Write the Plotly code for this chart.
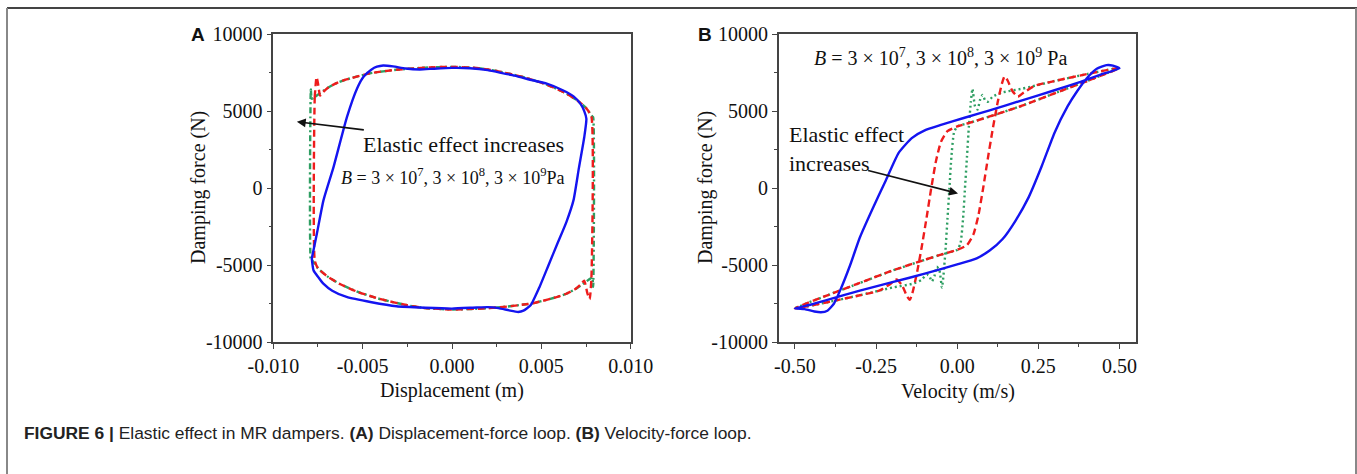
import plotly.graph_objects as go

# ---------------- Panel A: displacement-force loop ----------------
a_blue_x = [-0.00784, -0.00780, -0.00756, -0.00719, -0.00663, -0.00588, -0.00530, -0.00495, -0.00450, -0.00420,
            -0.00385, -0.00330, -0.00260, -0.00180, -0.00100, 0.00000, 0.00100, 0.00200, 0.00250, 0.00350,
            0.00450, 0.00530, 0.00620, 0.00680, 0.00720, 0.00740, 0.00752, 0.00740, 0.00710, 0.00680,
            0.00640, 0.00590, 0.00540, 0.00490, 0.00440, 0.00400, 0.00370, 0.00320, 0.00260, 0.00200,
            0.00140, 0.00000, -0.00150, -0.00310, -0.00450, -0.00590, -0.00670, -0.00720, -0.00750, -0.00775,
            -0.00784]
a_blue_y = [-4566, -4300, -2944, -779, 1364, 4610, 6500, 7229, 7700, 7878,
            7960, 7900, 7760, 7700, 7750, 7800, 7780, 7660, 7540, 7300,
            7000, 6780, 6350, 5950, 5450, 5000, 4500, 3300, 1300, -779,
            -2200, -3593, -5000, -6407, -7597, -7950, -8030, -7930, -7780, -7720,
            -7740, -7813, -7760, -7662, -7400, -7056, -6650, -6190, -5750, -5325,
            -4566]

a_red_x = [-0.00768, -0.00768, -0.00758, -0.00750, -0.00738, -0.00720, -0.00690, -0.00640, -0.00590, -0.00460,
           -0.00310, -0.00150, 0.00000, 0.00150, 0.00250, 0.00400, 0.00530, 0.00630, 0.00700, 0.00750,
           0.00780, 0.00780, 0.00770, 0.00757, 0.00740, 0.00720, 0.00690, 0.00640, 0.00590, 0.00460,
           0.00310, 0.00150, 0.00000, -0.00150, -0.00250, -0.00400, -0.00530, -0.00630, -0.00700, -0.00750,
           -0.00768]
a_red_y = [-4700, 5900, 7200, 6800, 6000, 6250, 6550, 6850, 7050, 7450,
           7680, 7820, 7870, 7780, 7600, 7200, 6720, 6200, 5700, 5200,
           4650, -5900, -7200, -6800, -6000, -6250, -6550, -6850, -7050, -7450,
           -7680, -7820, -7870, -7780, -7600, -7200, -6720, -6200, -5700, -5200,
           -4700]

a_green_x = [-0.00790, -0.00790, -0.00785, -0.00770, -0.00740, -0.00690, -0.00640, -0.00590, -0.00460, -0.00310,
             -0.00150, 0.00000, 0.00150, 0.00250, 0.00400, 0.00530, 0.00630, 0.00700, 0.00750, 0.00785,
             0.00790, 0.00790, 0.00785, 0.00770, 0.00740, 0.00690, 0.00640, 0.00590, 0.00460, 0.00310,
             0.00150, 0.00000, -0.00150, -0.00250, -0.00400, -0.00530, -0.00630, -0.00700, -0.00750, -0.00785,
             -0.00790]
a_green_y = [-4700, 6400, 5800, 5900, 6150, 6550, 6850, 7050, 7450, 7680,
             7820, 7870, 7780, 7600, 7200, 6720, 6200, 5700, 5200, 4650,
             4600, -6400, -5800, -5900, -6150, -6550, -6850, -7050, -7450, -7680,
             -7820, -7870, -7780, -7600, -7200, -6720, -6200, -5700, -5200, -4650,
             -4700]

# ---------------- Panel B: velocity-force loop ----------------
b_blue_v = [0.50, 0.44, 0.38, 0.30, 0.20, 0.10, 0.02, -0.05, -0.10, -0.14,
            -0.18, -0.22, -0.26, -0.30, -0.33, -0.36, -0.38, -0.40, -0.42, -0.44,
            -0.47, -0.50, -0.45, -0.40, -0.30, -0.20, -0.10, 0.00, 0.06, 0.10,
            0.14, 0.18, 0.22, 0.26, 0.30, 0.34, 0.37, 0.40, 0.43, 0.46,
            0.48, 0.50]
b_blue_f = [7780, 7350, 6900, 6350, 5700, 5050, 4550, 4100, 3750, 3250,
            2300, 500, -1300, -3200, -5000, -6600, -7500, -7950, -8050, -8000,
            -7850, -7800, -7550, -7250, -6650, -6100, -5550, -4950, -4550, -4050,
            -3300, -2100, -600, 1400, 3600, 5300, 6300, 7150, 7750, 7980,
            7950, 7780]

b_red_v = [0.50, 0.40, 0.30, 0.20, 0.10, 0.04, 0.00, -0.03, -0.05, -0.065,
           -0.08, -0.095, -0.11, -0.125, -0.138, -0.146, -0.155, -0.17, -0.187, -0.205,
           -0.24, -0.30, -0.40, -0.50, -0.40, -0.30, -0.20, -0.10, -0.04, 0.00,
           0.03, 0.05, 0.065, 0.08, 0.095, 0.11, 0.125, 0.138, 0.146, 0.155,
           0.17, 0.187, 0.205, 0.24, 0.30, 0.40, 0.50]
b_red_f = [7800, 6950, 6150, 5350, 4650, 4250, 4000, 3700, 3000, 1800,
           0, -2000, -3900, -5600, -6800, -7250, -7000, -6300, -5930, -6200,
           -6650, -6950, -7400, -7800, -6950, -6150, -5350, -4650, -4250, -4000,
           -3700, -3000, -1800, 0, 2000, 3900, 5600, 6800, 7250, 7000,
           6300, 5930, 6200, 6650, 6950, 7400, 7800]

b_green_v = [0.50, 0.40, 0.30, 0.20, 0.10, 0.04, 0.00, -0.010, -0.018, -0.024,
             -0.030, -0.036, -0.042, -0.047, -0.055, -0.063, -0.070, -0.078, -0.086, -0.094,
             -0.110, -0.137, -0.20, -0.30, -0.40, -0.50, -0.40, -0.30, -0.20, -0.10,
             -0.04, 0.00, 0.010, 0.018, 0.024, 0.030, 0.036, 0.042, 0.047, 0.055,
             0.063, 0.070, 0.078, 0.086, 0.094, 0.110, 0.137, 0.20, 0.30, 0.40,
             0.50]
b_green_f = [7800, 6950, 6150, 5350, 4650, 4250, 4000, 3600, 2000, 0,
             -2000, -4000, -5600, -6450, -5300, -5100, -5700, -6050, -5700, -5600,
             -5950, -6200, -6450, -6950, -7400, -7800, -6950, -6150, -5350, -4650,
             -4250, -4000, -3600, -2000, 0, 2000, 4000, 5600, 6450, 5300,
             5100, 5700, 6050, 5700, 5600, 5950, 6200, 6450, 6950, 7400,
             7800]

# ---------------- axes ticks ----------------
a_xticks = [-0.010, -0.005, 0.000, 0.005, 0.010]
a_xticktext = ["-0.010", "-0.005", "0.000", "0.005", "0.010"]
b_xticks = [-0.50, -0.25, 0.00, 0.25, 0.50]
b_xticktext = ["-0.50", "-0.25", "0.00", "0.25", "0.50"]
yticks = [-10000, -5000, 0, 5000, 10000]
yticktext = ["-10000", "-5000", "0", "5000", "10000"]

BLUE = "#1414f0"
RED = "#ee1c1c"
GREEN = "#2e9e62"
SERIF = "Liberation Serif, Times New Roman, serif"
SANS = "Liberation Sans, Arial, sans-serif"

W, H = 1357, 474

fig = go.Figure()

def add(x, y, color, dash, xa, ya, width=2.4):
    fig.add_trace(go.Scatter(x=x, y=y, mode="lines", xaxis=xa, yaxis=ya,
                             line=dict(color=color, width=width, dash=dash, shape="spline", smoothing=0.5),
                             showlegend=False, hoverinfo="skip"))

add(a_green_x, a_green_y, GREEN, "6px,3px,2px,3px", "x", "y")
add(a_red_x, a_red_y, RED, "7px,4px", "x", "y")
add(a_blue_x, a_blue_y, BLUE, "solid", "x", "y")
add(b_green_v, b_green_f, GREEN, "2px,3px", "x2", "y2")
add(b_red_v, b_red_f, RED, "7px,4px", "x2", "y2")
add(b_blue_v, b_blue_f, BLUE, "solid", "x2", "y2")

def px(v):
    return v / W

def py(v):
    return 1 - v / H

axis_common = dict(showline=True, linecolor="#444", linewidth=1.5, mirror=True,
                   ticks="outside", ticklen=5, tickwidth=1.2, tickcolor="#444",
                   showgrid=False, zeroline=False, automargin=False,
                   tickfont=dict(family=SERIF, size=20, color="#111"))

fig.update_layout(
    width=W, height=H, autosize=False,
    margin=dict(l=0, r=0, t=0, b=0, pad=0, autoexpand=False),
    paper_bgcolor="white", plot_bgcolor="white",
    showlegend=False,
    xaxis=dict(domain=[px(273.3), px(630.7)], range=[-0.010, 0.010], anchor="y",
               tickvals=a_xticks, ticktext=a_xticktext,
               minor=dict(ticks="outside", ticklen=3, tickcolor="#444", dtick=0.0025, tick0=0),
               **axis_common),
    yaxis=dict(domain=[py(342.3), py(34)], range=[-10000, 10000], anchor="x",
               tickvals=yticks, ticktext=yticktext,
               minor=dict(ticks="outside", ticklen=3, tickcolor="#444", dtick=2500, tick0=0),
               **axis_common),
    xaxis2=dict(domain=[px(778.7), px(1135.7)], range=[-0.55, 0.55], anchor="y2",
                tickvals=b_xticks, ticktext=b_xticktext,
                minor=dict(ticks="outside", ticklen=3, tickcolor="#444", dtick=0.125, tick0=0),
                **axis_common),
    yaxis2=dict(domain=[py(342.3), py(34)], range=[-10000, 10000], anchor="x2",
                tickvals=yticks, ticktext=yticktext,
                minor=dict(ticks="outside", ticklen=3, tickcolor="#444", dtick=2500, tick0=0),
                **axis_common),
)

def note(text, x, y, size, family=SERIF, xanchor="center", angle=0, align="center", color="#111"):
    return dict(text=text, x=px(x), y=py(y), xref="paper", yref="paper",
                xanchor=xanchor, yanchor="middle", align=align, textangle=angle,
                showarrow=False, font=dict(family=family, size=size, color=color))

ann = [
    note("Displacement (m)", 452, 390, 20),
    note("Velocity (m/s)", 958, 391, 20),
    note("Damping force (N)", 198, 188, 20, angle=-90),
    note("Damping force (N)", 705, 188, 20, angle=-90),
    note("<b>A</b>", 198, 34, 19, family=SANS),
    note("<b>B</b>", 705, 34, 19, family=SANS),
    note("Elastic effect increases", 463, 145, 22),
    note("<i>B</i> = 3 × 10<sup>7</sup>, 3 × 10<sup>8</sup>, 3 × 10<sup>9</sup>Pa", 453, 176, 18),
    note("<i>B</i> = 3 × 10<sup>7</sup>, 3 × 10<sup>8</sup>, 3 × 10<sup>9</sup> Pa", 940, 57, 20),
    note("Elastic effect<br>increases", 787, 149, 22, xanchor="left", align="left"),
    note("<b>FIGURE 6 |</b> Elastic effect in MR dampers. <b>(A)</b> Displacement-force loop. "
         "<b>(B)</b> Velocity-force loop.", 22, 433, 17.4, family=SANS, xanchor="left", align="left",
         color="#222"),
    dict(x=-0.00868, y=4305, ax=-0.00485, ay=3766, xref="x", yref="y", axref="x", ayref="y",
         text="", showarrow=True, arrowhead=2, arrowsize=1.1, arrowwidth=1.6, arrowcolor="#111"),
    dict(x=0.0025, y=-344, ax=-0.279, ay=1169, xref="x2", yref="y2", axref="x2", ayref="y2",
         text="", showarrow=True, arrowhead=2, arrowsize=1.1, arrowwidth=1.6, arrowcolor="#111"),
]
fig.update_layout(annotations=ann)

# figure frame
fig.add_shape(type="line", xref="paper", yref="paper", x0=px(7), x1=1.0, y0=py(8), y1=py(8),
              line=dict(color="#444", width=2))
fig.add_shape(type="line", xref="paper", yref="paper", x0=px(7), x1=px(7), y0=0, y1=py(8),
              line=dict(color="#888", width=2))
fig.add_shape(type="line", xref="paper", yref="paper", x0=px(1356), x1=px(1356), y0=0, y1=py(8),
              line=dict(color="#888", width=2))

fig.write_html("out.html", config={"displayModeBar": False, "responsive": False},
               post_script="document.body.style.margin='0px';document.body.style.padding='0px';"
                           "document.body.style.overflow='hidden';")
